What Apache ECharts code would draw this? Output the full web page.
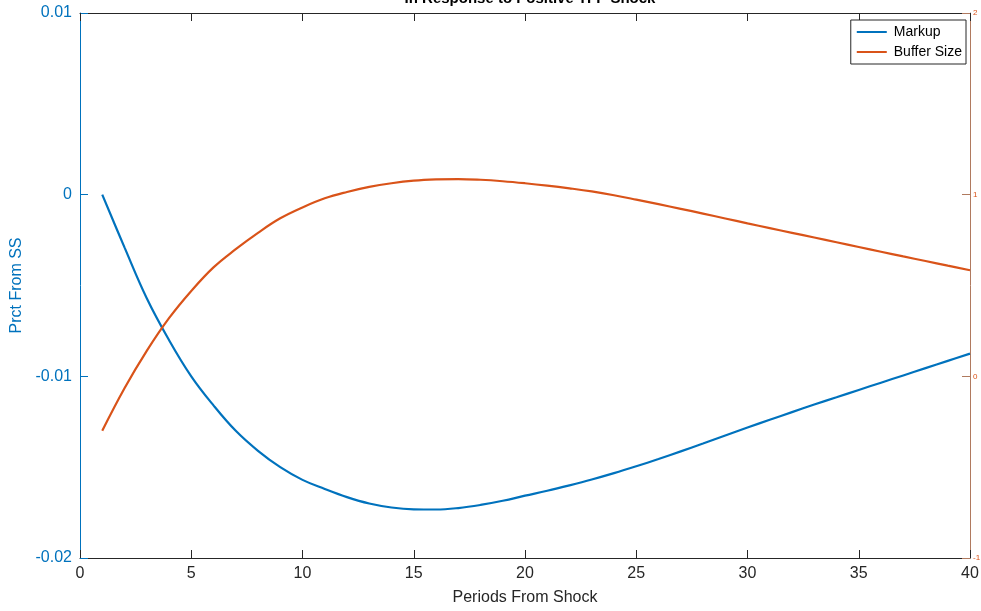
<!DOCTYPE html>
<html>
<head>
<meta charset="utf-8">
<script src="https://cdn.jsdelivr.net/npm/echarts@6/dist/echarts.min.js"></script>
<style>
html, body { margin: 0; padding: 0; background: #fff; }
#chart { width: 981px; height: 611px; }
</style>
</head>
<body>
<div id="chart"></div>
<script>
// periods 1..40
const periods = [1, 2, 3, 4, 5, 6, 7, 8, 9, 10, 11, 12, 13, 14, 15, 16, 17, 18, 19, 20,
    21, 22, 23, 24, 25, 26, 27, 28, 29, 30, 31, 32, 33, 34, 35, 36, 37, 38, 39, 40];
const markup = [0, -0.0029, -0.0057, -0.0080, -0.0100, -0.0116, -0.0130, -0.0141, -0.0150, -0.0157,
    -0.0162, -0.01665, -0.0170, -0.01722, -0.01732, -0.01733, -0.01725, -0.01708, -0.01685, -0.01657,
    -0.0163, -0.0160, -0.01568, -0.01533, -0.01495, -0.01455, -0.01413, -0.0137, -0.01326, -0.01282,
    -0.01239, -0.01197, -0.01155, -0.01115, -0.01075, -0.01035, -0.00995, -0.00955, -0.00915, -0.00875];
const bufferSize = [-0.30, -0.066, 0.14, 0.32, 0.47, 0.60, 0.70, 0.79, 0.87, 0.93,
    0.98, 1.015, 1.043, 1.063, 1.077, 1.084, 1.086, 1.082, 1.074, 1.063,
    1.05, 1.035, 1.018, 0.997, 0.973, 0.948, 0.922, 0.896, 0.869, 0.842,
    0.816, 0.79, 0.764, 0.738, 0.712, 0.686, 0.66, 0.635, 0.609, 0.584];
const xTicks = [0, 5, 10, 15, 20, 25, 30, 35, 40];

const blue = '#0072BD';
const orange = '#D95319';
const dark = '#262626';
const font = 'Liberation Sans, Arial, Helvetica, sans-serif';

const chart = echarts.init(document.getElementById('chart'));
chart.setOption({
    animation: false,
    title: {
        text: 'In Response to Positive TFP Shock',
        left: 525,
        textAlign: 'center',
        top: -14,
        textStyle: { fontFamily: font, fontSize: 15, fontWeight: 'bold', color: '#000' },
    },
    grid: { left: 80, right: 11, top: 13, bottom: 53, containLabel: false, outerBoundsMode: 'none' },
    legend: {
        right: 15,
        top: 20,
        orient: 'vertical',
        data: ['Markup', 'Buffer Size'],
        icon: 'rect',
        itemWidth: 30,
        itemHeight: 2,
        itemGap: 6,
        padding: [5, 4, 5, 6],
        borderColor: dark,
        borderWidth: 1,
        backgroundColor: '#fff',
        textStyle: { fontFamily: font, fontSize: 14, color: '#000', padding: [0, 0, 0, 2] },
    },
    xAxis: [{
        type: 'value',
        min: 0,
        max: 40,
        interval: 5,
        name: 'Periods From Shock',
        nameLocation: 'middle',
        nameGap: 32,
        nameTextStyle: { fontFamily: font, fontSize: 16, color: dark },
        axisLine: { onZero: false, lineStyle: { color: dark, width: 1 } },
        axisTick: { inside: true, length: 8, lineStyle: { color: dark } },
        axisLabel: { fontFamily: font, fontSize: 16, color: dark, margin: 8,
            formatter: v => (xTicks.includes(v) ? String(v) : '') },
        splitLine: { show: false },
    }, {
        type: 'value',
        position: 'top',
        min: 0,
        max: 40,
        interval: 5,
        axisLine: { onZero: false, lineStyle: { color: dark, width: 1 } },
        axisTick: { inside: true, length: 8, lineStyle: { color: dark } },
        axisLabel: { show: false },
        splitLine: { show: false },
    }],
    yAxis: [{
        type: 'value',
        min: -0.02,
        max: 0.01,
        interval: 0.01,
        name: 'Prct From SS',
        nameLocation: 'middle',
        nameGap: 52,
        nameTextStyle: { fontFamily: font, fontSize: 16, color: blue },
        axisLine: { show: true, onZero: false, lineStyle: { color: blue, width: 1 } },
        axisTick: { show: true, inside: true, length: 8, lineStyle: { color: blue } },
        axisLabel: { fontFamily: font, fontSize: 16, color: blue, margin: 8,
            formatter: v => (Math.abs(v) < 1e-9 ? '0' : v.toFixed(2)) },
        splitLine: { show: false },
    }, {
        type: 'value',
        position: 'right',
        min: -1,
        max: 2,
        interval: 1,
        axisLine: { show: true, onZero: false, lineStyle: { color: '#B07A5F', width: 1 } },
        axisTick: { show: true, inside: true, length: 8, lineStyle: { color: '#B07A5F' } },
        axisLabel: { fontFamily: font, fontSize: 8, color: orange, margin: 3 },
        splitLine: { show: false },
    }],
    series: [{
        name: 'Markup',
        type: 'line',
        xAxisIndex: 0,
        yAxisIndex: 0,
        showSymbol: false,
        symbol: 'none',
        smooth: 0.4,
        color: blue,
        lineStyle: { width: 2.2, color: blue },
        data: periods.map((p, i) => [p, markup[i]]),
    }, {
        name: 'Buffer Size',
        type: 'line',
        xAxisIndex: 0,
        yAxisIndex: 1,
        showSymbol: false,
        symbol: 'none',
        smooth: 0.4,
        color: orange,
        lineStyle: { width: 2.2, color: orange },
        data: periods.map((p, i) => [p, bufferSize[i]]),
    }],
});
</script>
</body>
</html>
